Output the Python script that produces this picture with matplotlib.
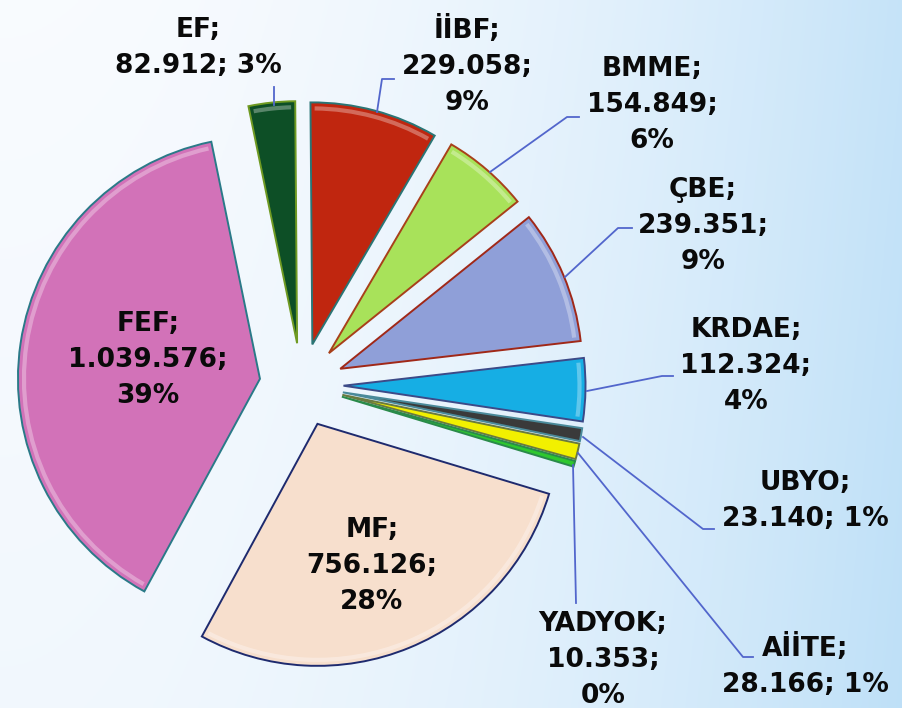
import numpy as np
import matplotlib
matplotlib.use("Agg")
import matplotlib.pyplot as plt
from matplotlib.patches import Arc
import matplotlib.colors as mcolors

# data (values use "." as thousands separator in the labels)
names = ["EF", "İİBF", "BMME", "ÇBE", "KRDAE", "UBYO", "AİİTE", "YADYOK", "MF", "FEF"]
values = [82912, 229058, 154849, 239351, 112324, 23140, 28166, 10353, 756126, 1039576]

colors = ["#0d4f26", "#c0260f", "#a8e25a", "#8f9fd8", "#16aee4",
          "#3a3a3a", "#f2f000", "#2ec82e", "#f7dfcd", "#d272b8"]
edges = ["#6f9a22", "#2a7575", "#a8401a", "#a02818", "#3c4a88",
         "#4a8a9a", "#6a7a40", "#2a8a4a", "#1e2a6e", "#2a7a88"]

# label layout (image pixel coords, y from top), and whether label uses 2 lines
label_pos = {
    "EF": (198, 48, 2), "İİBF": (467, 66, 3), "BMME": (652, 105, 3),
    "ÇBE": (703, 226, 3), "KRDAE": (746, 366, 3), "UBYO": (805, 501, 2),
    "AİİTE": (805, 666, 2), "YADYOK": (603, 660, 3), "MF": (372, 566, 3),
    "FEF": (148, 360, 3),
}
leaders = {
    "EF": [(274, 87), (274, 105)],
    "İİBF": [(394, 79), (382, 79), (377, 112)],
    "BMME": [(579, 117), (567, 117), (490, 172)],
    "ÇBE": [(632, 228), (618, 228), (565, 277)],
    "KRDAE": [(673, 376), (662, 376), (587, 391)],
    "UBYO": [(714, 529), (703, 529), (583, 437)],
    "AİİTE": [(753, 657), (743, 657), (578, 453)],
    "YADYOK": [(576, 603), (573, 465)],
}

W, H = 902, 708
fig = plt.figure(figsize=(W / 100, H / 100), dpi=100)
ax = fig.add_axes([0, 0, 1, 1])

# background gradient: near white on the left, light blue on the right
gx = np.linspace(0, 1, 300)
gy = np.linspace(0, 1, 240)
GX, GY = np.meshgrid(gx, gy)
t = np.clip(GX ** 2.0 * 0.85 + (1 - GY) * 0.12, 0, 1)
c0 = np.array([0.975, 0.985, 0.998])
c1 = np.array([0.74, 0.875, 0.97])
img = c0[None, None, :] * (1 - t[..., None]) + c1[None, None, :] * t[..., None]
ax.imshow(img, extent=(0, W, 0, H), origin="lower", aspect="auto", zorder=-2)

R = 242
wedges, _ = ax.pie(values, colors=colors, startangle=101.6, counterclock=False,
                   explode=[42] * len(values), radius=R, center=(301.5, H - 385),
                   wedgeprops=dict(linewidth=1.4))
for w, ec, fc in zip(wedges, edges, colors):
    w.set_edgecolor(ec)
    w.set_zorder(2)
    # soft bevel highlight along the outer rim
    light = mcolors.to_rgb(fc)
    light = tuple(min(1, c + (1 - c) * 0.45) for c in light)
    span = abs(w.theta2 - w.theta1)
    if span > 5:
        ax.add_patch(Arc(w.center, 2 * (R - 6), 2 * (R - 6), theta1=w.theta1 + 1,
                         theta2=w.theta2 - 1, color=light, lw=3, alpha=0.7,
                         zorder=3))

total = sum(values)
for n, v in zip(names, values):
    num = f"{v:,}".replace(",", ".")
    pct = f"{round(v / total * 100)}%"
    x, y, nl = label_pos[n]
    if nl == 2:
        txt = f"{n};\n{num}; {pct}"
    else:
        txt = f"{n};\n{num};\n{pct}"
    ax.text(x, H - y, txt, ha="center", va="center", fontsize=19,
            fontweight="bold", color="#0a0a0a", linespacing=1.52, zorder=5,
            family="DejaVu Sans")
    if n in leaders:
        pts = leaders[n]
        ax.plot([p[0] for p in pts], [H - p[1] for p in pts], color="#5266cc",
                lw=1.3, zorder=4)

ax.set_xlim(0, W)
ax.set_ylim(0, H)
ax.set_aspect("auto")
ax.axis("off")

fig.savefig("out.png", dpi=100)
